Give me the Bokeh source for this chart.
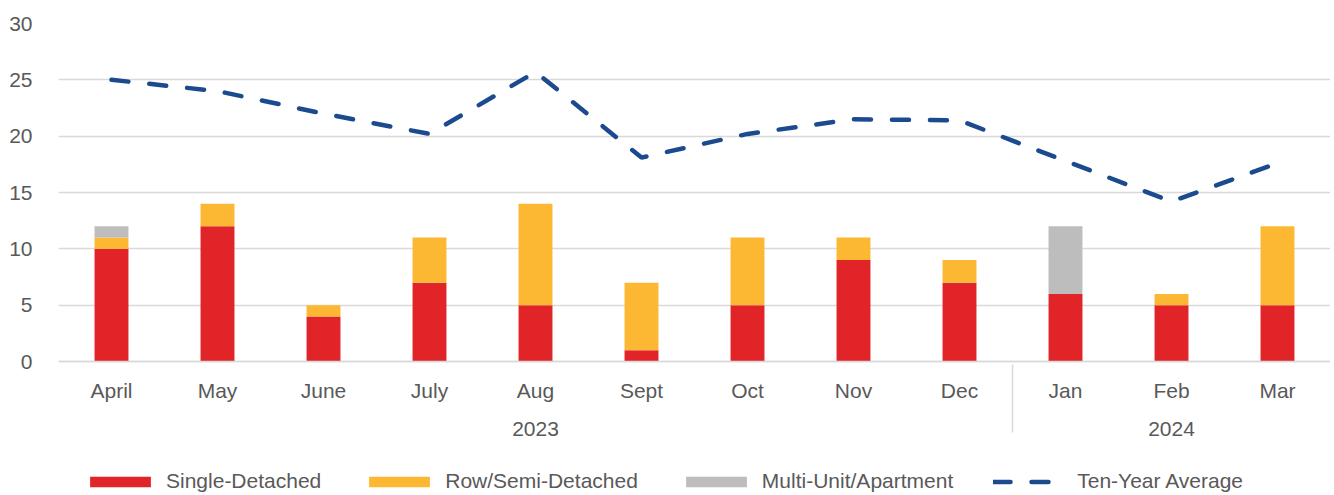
from bokeh.plotting import figure
from bokeh.models import FactorRange, Range1d, Legend, LegendItem, FixedTicker, ColumnDataSource
from bokeh.embed import file_html
from bokeh.resources import INLINE

years = ["2023"] * 9 + ["2024"] * 3
months = ["April", "May", "June", "July", "Aug", "Sept", "Oct", "Nov", "Dec", "Jan", "Feb", "Mar"]
single_detached = [10, 12, 4, 7, 5, 1, 5, 9, 7, 6, 5, 5]
row_semi = [1, 2, 1, 4, 9, 6, 6, 2, 2, 0, 1, 7]
multi_unit = [1, 0, 0, 0, 0, 0, 0, 0, 0, 6, 0, 0]
ten_year_avg = [25.0, 24.0, 22.0, 20.2, 25.7, 18.1, 20.2, 21.5, 21.4, 17.8, 14.2, 17.6]
y_ticks = [0, 5, 10, 15, 20, 25, 30]

series = ["Single-Detached", "Row/Semi-Detached", "Multi-Unit/Apartment"]
colors = ["#E12428", "#FDB833", "#BDBDBD"]
line_color = "#1C4A8F"
text_color = "#595959"
FONT = "Liberation Sans"

factors = list(zip(years, months))
src = ColumnDataSource(dict(x=factors, s1=single_detached, s2=row_semi, s3=multi_unit, avg=ten_year_avg))

# layout: 338 px for the 0..30 value span, extra frame room below zero for axis labels and legend
PLOT_PX = 338
FRAME_PX = 470
y_max = max(y_ticks)
y_min = -(FRAME_PX - PLOT_PX) * y_max / PLOT_PX

p = figure(
    x_range=FactorRange(*factors, group_padding=0, range_padding=0),
    y_range=Range1d(y_min, y_max),
    frame_width=1272, frame_height=FRAME_PX,
    output_backend="svg", toolbar_location=None,
    min_border_left=58, min_border_top=23, min_border_right=0, min_border_bottom=0,
)
p.outline_line_color = None

bars = p.vbar_stack(["s1", "s2", "s3"], x="x", width=0.32, color=colors, source=src,
                    line_color=None)
ln = p.line(x="x", y="avg", source=src, line_color=line_color, line_width=4.5,
            line_dash="17 21", line_cap="round")

p.xgrid.grid_line_color = None
p.ygrid.grid_line_color = "#D9D9D9"
p.ygrid.grid_line_width = 1.5
p.yaxis.ticker = FixedTicker(ticks=y_ticks)
p.yaxis.axis_line_color = None
p.yaxis.major_tick_line_color = None
p.yaxis.minor_tick_line_color = None
p.yaxis.major_label_text_font = FONT
p.yaxis.major_label_text_font_size = "21px"
p.yaxis.major_label_text_color = text_color
p.yaxis.major_label_standoff = 20

xa = p.xaxis[0]
xa.fixed_location = 0
xa.axis_line_color = "#D9D9D9"
xa.axis_line_width = 1.5
xa.major_tick_line_color = None
xa.minor_tick_line_color = None
xa.major_tick_out = 0
xa.major_tick_in = 0
xa.major_label_text_font = FONT
xa.major_label_text_font_size = "21px"
xa.major_label_text_color = text_color
xa.major_label_standoff = 17
xa.group_text_font = FONT
xa.group_text_font_size = "21px"
xa.group_text_color = text_color
xa.group_text_font_style = "normal"
xa.separator_line_color = "#D9D9D9"
xa.separator_line_width = 1.5

items = [LegendItem(label=series[i], renderers=[bars[i]]) for i in range(3)]
items.append(LegendItem(label="Ten-Year Average", renderers=[ln]))
legend = Legend(items=items, orientation="horizontal", location=(24, 0),
                glyph_width=76, glyph_height=13, label_standoff=8, spacing=40,
                label_text_font=FONT, label_text_font_size="21px",
                label_text_color=text_color, border_line_color=None,
                background_fill_alpha=0, padding=0, margin=0)
p.add_layout(legend, "center")

open("out.html", "w").write(file_html(p, INLINE))
